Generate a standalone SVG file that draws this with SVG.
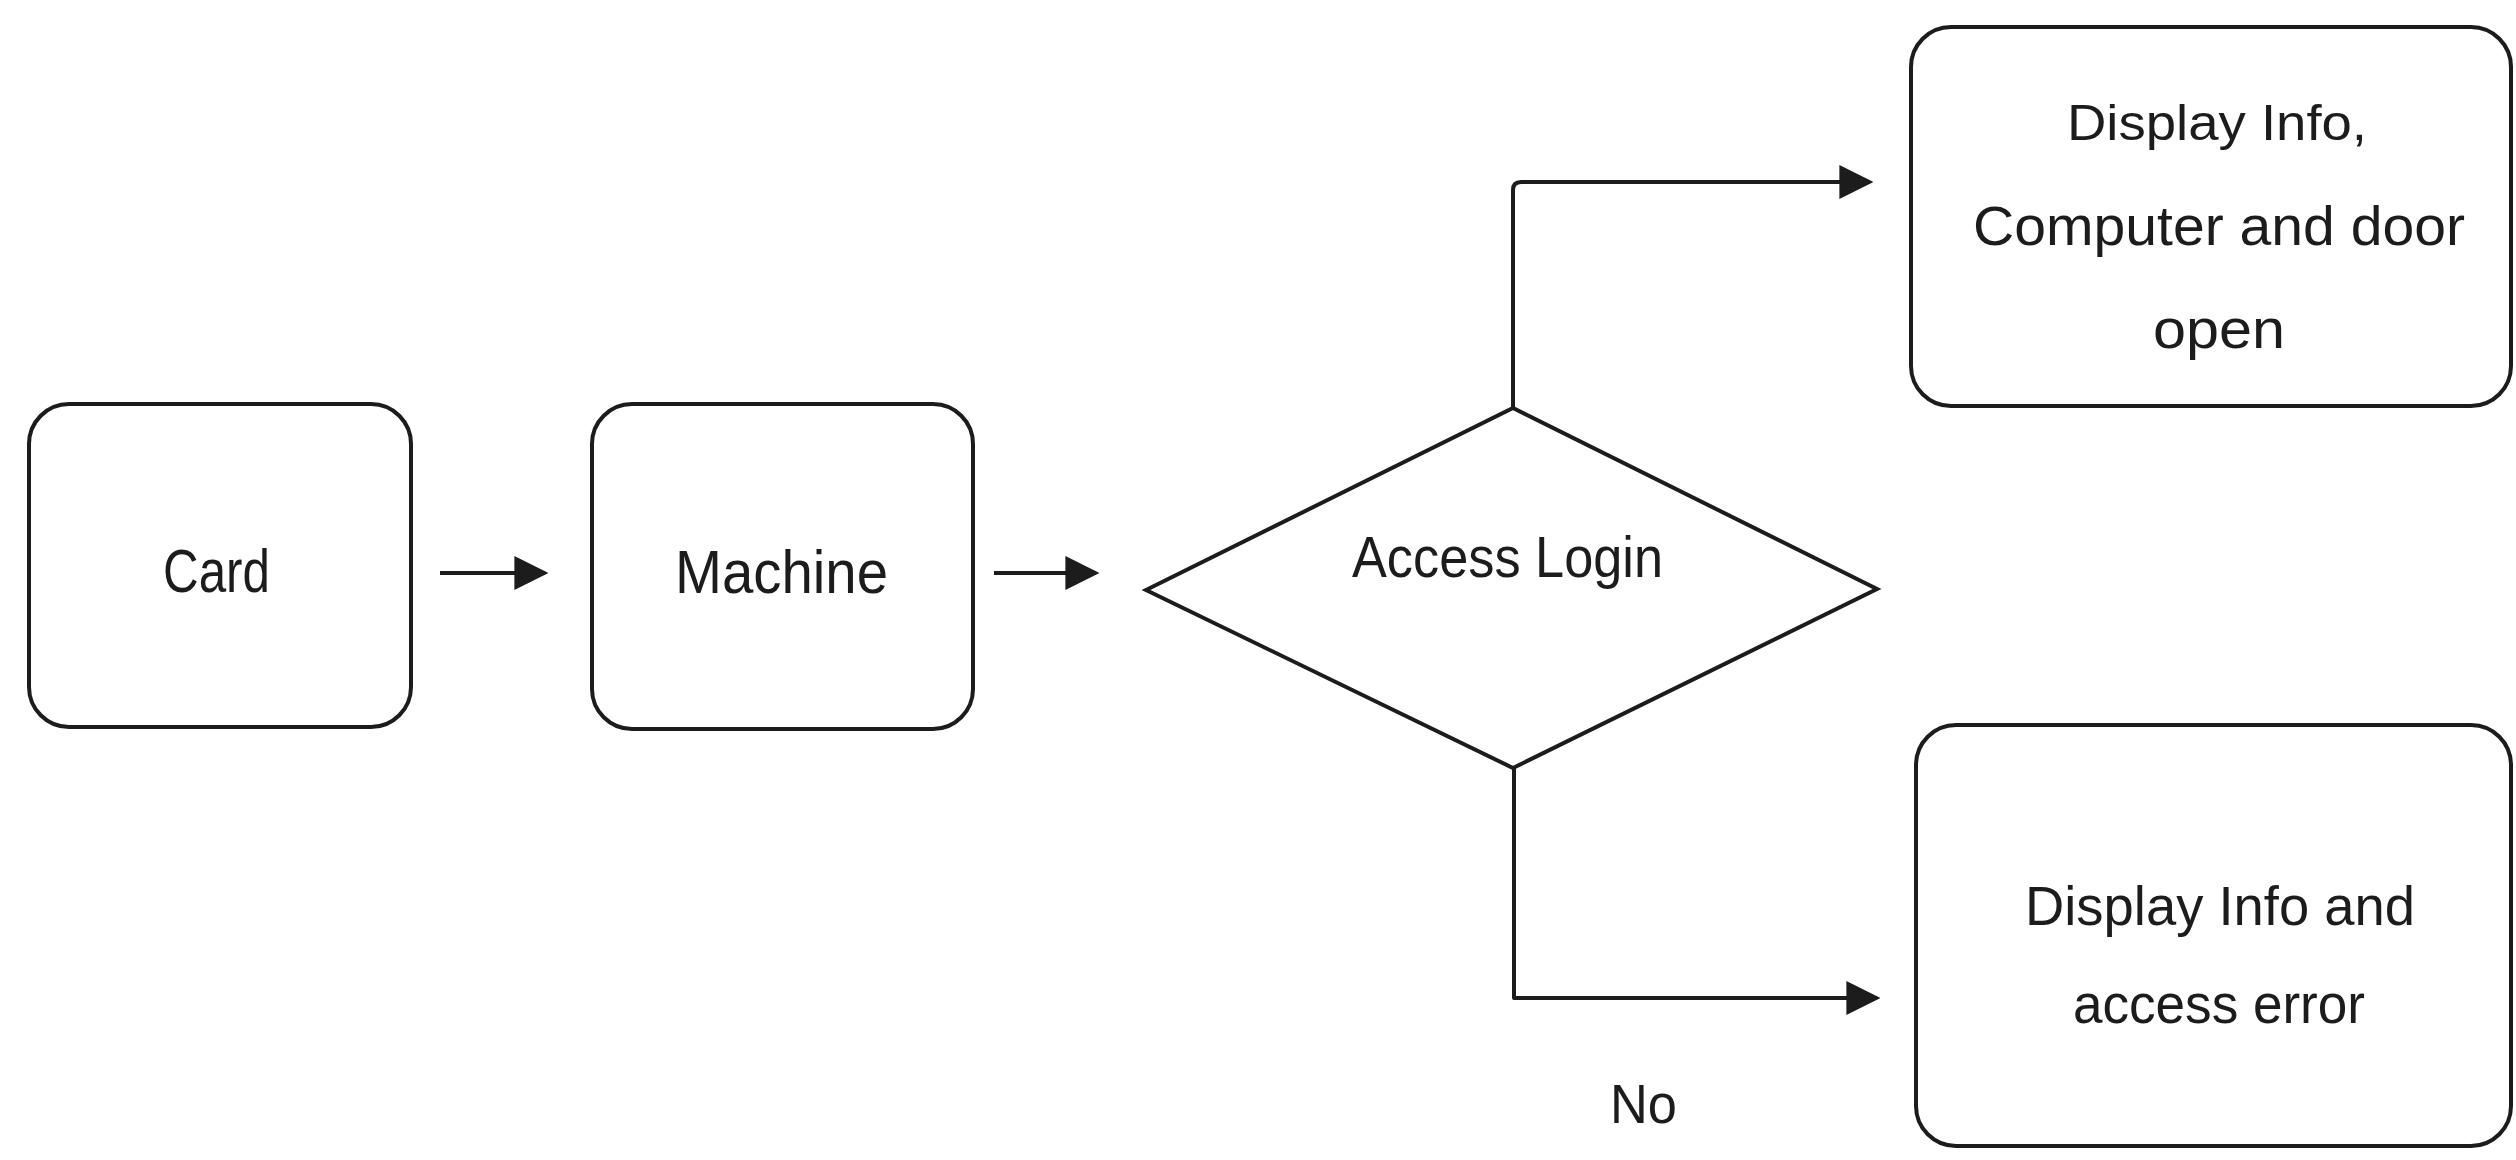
<svg xmlns="http://www.w3.org/2000/svg" width="2516" height="1160" viewBox="0 0 2516 1160">
  <style>
    .box { fill: #ffffff; stroke: #1c1c1c; stroke-width: 4; }
    .link { fill: none; stroke: #1c1c1c; stroke-width: 4; stroke-linejoin: round; }
    .label { font-family: "Liberation Sans", Arial, sans-serif; fill: #1c1c1c; }
  </style>
  <defs>
    <marker id="head" viewBox="0 0 10 10" refX="9" refY="5" markerUnits="userSpaceOnUse" markerWidth="34" markerHeight="34" orient="auto">
      <path d="M0,0 L10,5 L0,10 z" fill="#1c1c1c"/>
    </marker>
  </defs>
  <rect width="2516" height="1160" fill="#ffffff"/>

  <!-- connectors -->
  <g id="connectors">
    <line class="link" x1="440" y1="573" x2="545" y2="573" marker-end="url(#head)"/>
    <line class="link" x1="994" y1="573" x2="1096" y2="573" marker-end="url(#head)"/>
    <path class="link" d="M1513,408 L1513,190 Q1513,182 1521,182 L1870,182" marker-end="url(#head)"/>
    <path class="link" d="M1514,768 L1514,998 L1877,998" marker-end="url(#head)"/>
    <text class="label" x="1610" y="1123" font-size="56" textLength="67" lengthAdjust="spacingAndGlyphs">No</text>
  </g>

  <!-- nodes -->
  <g id="card">
    <rect class="box" x="29" y="404" width="382" height="323" rx="40" ry="40"/>
    <text class="label" x="163" y="592" font-size="62" textLength="107" lengthAdjust="spacingAndGlyphs">Card</text>
  </g>

  <g id="machine">
    <rect class="box" x="592" y="404" width="381" height="325" rx="40" ry="40"/>
    <text class="label" x="675" y="593" font-size="62" textLength="213" lengthAdjust="spacingAndGlyphs">Machine</text>
  </g>

  <g id="access-login">
    <polygon class="box" points="1146,590 1513,408 1877,589 1513,768"/>
    <text class="label" x="1352" y="577" font-size="58" textLength="311" lengthAdjust="spacingAndGlyphs">Access Login</text>
  </g>

  <g id="granted">
    <rect class="box" x="1911" y="27" width="600" height="379" rx="40" ry="40"/>
    <text class="label" x="2067" y="140" font-size="50" textLength="300" lengthAdjust="spacingAndGlyphs">Display Info,</text>
    <text class="label" x="1973" y="245" font-size="56" textLength="492" lengthAdjust="spacingAndGlyphs">Computer and door</text>
    <text class="label" x="2153" y="348" font-size="56" textLength="132" lengthAdjust="spacingAndGlyphs">open</text>
  </g>

  <g id="denied">
    <rect class="box" x="1916" y="725" width="595" height="421" rx="40" ry="40"/>
    <text class="label" x="2025" y="925" font-size="56" textLength="390" lengthAdjust="spacingAndGlyphs">Display Info and</text>
    <text class="label" x="2073" y="1023" font-size="56" textLength="292" lengthAdjust="spacingAndGlyphs">access error</text>
  </g>
</svg>
